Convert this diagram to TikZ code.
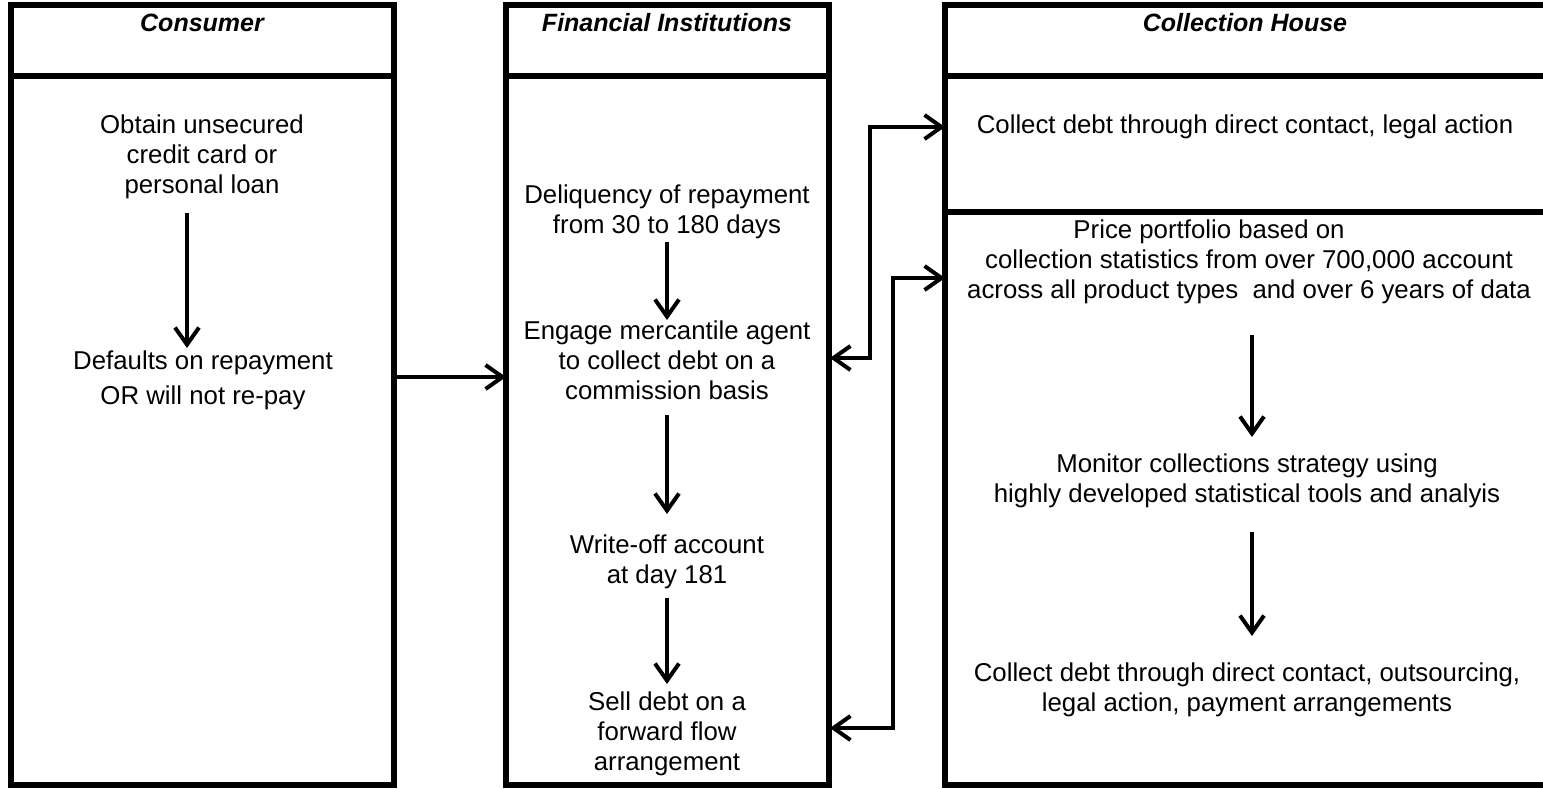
\documentclass[tikz,border=0pt]{standalone}
\usepackage{fontspec}
\setmainfont{Liberation Sans}
\usetikzlibrary{arrows.meta}
\begin{document}
\begin{tikzpicture}[x=1pt,y=-1pt,
  box/.style={line width=5.5pt},
  txt/.style={align=center, font=\fontsize{25.8}{30}\selectfont, inner sep=0pt},
  hdr/.style={font=\fontsize{25}{30}\selectfont\bfseries\itshape, inner sep=0pt},
  arr/.style={line width=4pt, -{Straight Barb[length=17pt,width=24pt,line width=4pt]}},
  barr/.style={line width=4pt, {Straight Barb[length=17pt,width=24pt,line width=4pt]}-{Straight Barb[length=17pt,width=24pt,line width=4pt]}}]
\useasboundingbox (0,0) rectangle (1543,788);
% columns
\draw[box] (11,5) rectangle (394,785);
\draw[box] (11,76) -- (394,76);
\draw[box] (506,5) rectangle (829,785);
\draw[box] (506,76) -- (829,76);
\draw[box] (1550,5) -- (945,5) -- (945,785) -- (1550,785);
\draw[box] (945,76) -- (1550,76);
\draw[box] (945,212) -- (1550,212);
% headers
\node[hdr] (hc) at (202,23) {Consumer};
\node[hdr] (hf) at (667,23) {Financial Institutions};
\node[hdr] (hh) at (1245,23) {Collection House};
% consumer
\node[txt] (c1) at (202,157) {Obtain unsecured\\credit card or\\personal loan};
\node[txt] (c2) at (203,380) {Defaults on repayment\\[5pt]OR will not re-pay};
% financial
\node[txt] (f1) at (667,212) {Deliquency of repayment\\from 30 to 180 days};
\node[txt] (f2) at (667,360) {Engage mercantile agent\\to collect debt on a\\commission basis};
\node[txt] (f3) at (667,562) {Write-off account\\at day 181};
\node[txt] (f4) at (667,734) {Sell debt on a\\forward flow\\arrangement};
% collection
\node[txt] (h1) at (1245,127) {Collect debt through direct contact, legal action};
\node[txt] (h2) at (1249,262) {Price portfolio based on\hspace*{80pt}\\collection statistics from over 700,000 account\\across all product types\ \ and over 6 years of data};
\node[txt] (h3) at (1247,481) {Monitor collections strategy using\\highly developed statistical tools and analyis};
\node[txt] (h4) at (1247,690) {Collect debt through direct contact, outsourcing,\\legal action, payment arrangements};
% arrow end points
\coordinate (ca) at (187,213);
\coordinate (cb) at (187,348);
\coordinate (cf1) at (394,377);
\coordinate (cf2) at (506,377);
\coordinate (fa1) at (667,242);
\coordinate (fa2) at (667,320);
\coordinate (fb1) at (667,415);
\coordinate (fb2) at (667,514);
\coordinate (fc1) at (667,598);
\coordinate (fc2) at (667,684);
\coordinate (ha1) at (1252,335);
\coordinate (ha2) at (1252,437);
\coordinate (hb1) at (1252,532);
\coordinate (hb2) at (1252,636);
\coordinate (br1a) at (945,127);
\coordinate (br1b) at (830,358);
\coordinate (br2a) at (945,278);
\coordinate (br2b) at (830,728);
% arrows
\draw[arr] (ca) -- (cb);
\draw[arr] (cf1) -- (cf2);
\draw[arr] (fa1) -- (fa2);
\draw[arr] (fb1) -- (fb2);
\draw[arr] (fc1) -- (fc2);
\draw[arr] (ha1) -- (ha2);
\draw[arr] (hb1) -- (hb2);
\draw[barr] (br1b) -- (870,358) -- (870,127) -- (br1a);
\draw[barr] (br2b) -- (893,728) -- (893,278) -- (br2a);
\end{tikzpicture}
\end{document}
